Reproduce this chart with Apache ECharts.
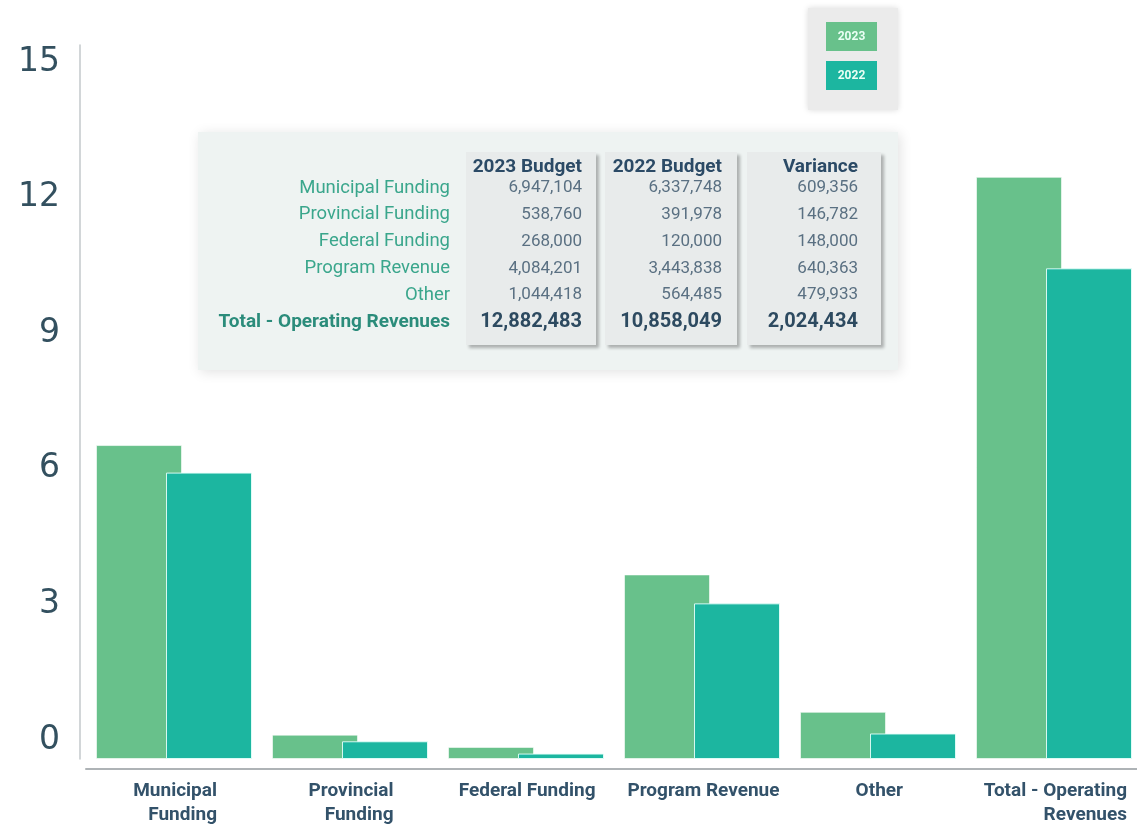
<!DOCTYPE html>
<html>
<head>
<meta charset="utf-8">
<script src="https://cdn.jsdelivr.net/npm/echarts@6/dist/echarts.min.js"></script>
<style>html,body{margin:0;padding:0;background:#fff;overflow:hidden}#c{width:1145px;height:828px}</style>
</head>
<body>
<div id="c"></div>
<script>
// ---- data ----
const categories = ['Municipal Funding', 'Provincial Funding', 'Federal Funding', 'Program Revenue', 'Other', 'Total - Operating Revenues'];
const axisLabels = ['Municipal\nFunding', 'Provincial\nFunding', 'Federal Funding', 'Program Revenue', 'Other', 'Total - Operating\nRevenues'];
const budget2023 = [6947104, 538760, 268000, 4084201, 1044418, 12882483];
const budget2022 = [6337748, 391978, 120000, 3443838, 564485, 10858049];
const variance = [609356, 146782, 148000, 640363, 479933, 2024434];
const tableHeaders = ['2023 Budget', '2022 Budget', 'Variance'];
const seriesNames = ['2023', '2022'];
const yTicks = [0, 3, 6, 9, 12, 15];

// ---- styles ----
const C2023 = '#68c18b';
const C2022 = '#1cb6a0';
const fmt = v => v.toLocaleString('en-US');

const chart = echarts.init(document.getElementById('c'), null, {renderer: 'canvas'});

// measure text widths for right-aligned multi-line axis labels
const cv = document.createElement('canvas').getContext('2d');
cv.font = 'bold 19px Roboto';
const rich = {};
axisLabels.forEach((l, i) => {
  const w = Math.max(...l.split('\n').map(s => cv.measureText(s).width));
  rich['r' + i] = {width: Math.ceil(w) + 2, align: 'right', fontFamily: 'Roboto', fontWeight: 'bold', fontSize: 19, color: '#33526a', lineHeight: 24};
});

// graphic: table
const g = [];
g.push({type: 'rect', shape: {x: 198, y: 132, width: 700, height: 238}, style: {fill: '#eef3f2', shadowBlur: 12, shadowOffsetX: 2, shadowOffsetY: 2, shadowColor: 'rgba(0,0,0,0.12)'}, z: 10});
const colBoxes = [[466, 130], [605, 132], [747, 134]];
const colRight = [582, 722, 858];
colBoxes.forEach(([x, w]) => {
  g.push({type: 'rect', shape: {x: x, y: 152, width: w, height: 193}, style: {fill: '#e8ebeb', shadowBlur: 3, shadowOffsetX: 3, shadowOffsetY: 3, shadowColor: 'rgba(0,0,0,0.28)'}, z: 11});
});
tableHeaders.forEach((h, i) => {
  g.push({type: 'text', x: colRight[i], y: 167, style: {text: h, align: 'right', verticalAlign: 'middle', fill: '#2b4a66', font: 'bold 19px Roboto'}, z: 12});
});
const rowY0 = 188, rowStep = 26.8;
const cols = [budget2023, budget2022, variance];
categories.forEach((cat, r) => {
  const last = r === categories.length - 1;
  const y = rowY0 + r * rowStep;
  g.push({type: 'text', x: 450, y: y, style: {text: cat, align: 'right', verticalAlign: 'middle', fill: last ? '#2b8c7b' : '#3aa68c', font: last ? 'bold 19px Roboto' : '18.5px Roboto'}, z: 12});
  cols.forEach((arr, c) => {
    g.push({type: 'text', x: colRight[c], y: y, style: {text: fmt(arr[r]), align: 'right', verticalAlign: 'middle', fill: last ? '#2d4a60' : '#5a7082', font: last ? 'bold 20px Roboto' : '17px Roboto'}, z: 12});
  });
});
// graphic: legend
g.push({type: 'rect', shape: {x: 808, y: 8, width: 90, height: 102}, style: {fill: '#ebebeb', shadowBlur: 6, shadowColor: 'rgba(0,0,0,0.15)'}, z: 10});
[C2023, C2022].forEach((col, i) => {
  const y = i === 0 ? 22 : 61;
  g.push({type: 'rect', shape: {x: 826, y: y, width: 51, height: 29}, style: {fill: col}, z: 11});
  g.push({type: 'text', x: 851.5, y: y + 14.5, style: {text: seriesNames[i], align: 'center', verticalAlign: 'middle', fill: '#eafff5', font: 'bold 12px Roboto'}, z: 12});
});

const option = {
  animation: false,
  backgroundColor: '#ffffff',
  grid: {left: 86, right: 3, top: 45, bottom: 69, containLabel: false},
  xAxis: {
    type: 'category',
    data: categories,
    offset: 10,
    axisTick: {show: false},
    axisLine: {onZero: false, lineStyle: {color: '#aeb3b6', width: 2}},
    axisLabel: {
      interval: 0,
      margin: 10,
      formatter: (v, i) => axisLabels[i].split('\n').map(s => '{r' + i + '|' + s + '}').join('\n'),
      rich: rich
    }
  },
  yAxis: {
    type: 'value',
    min: 0,
    max: 15.8,
    interval: 3,
    offset: 6,
    splitLine: {show: false},
    axisTick: {show: false},
    axisLine: {show: true, lineStyle: {color: '#c3c8cb', width: 1.5}},
    axisLabel: {
      margin: 20,
      formatter: v => (yTicks.indexOf(v) >= 0 ? String(v) : ''),
      fontFamily: 'DejaVu Sans',
      fontWeight: 'normal',
      fontSize: 33,
      color: '#33505f',
      verticalAlign: 'bottom',
      lineHeight: 38
    }
  },
  series: [
    {name: seriesNames[0], type: 'bar', data: budget2023.map(v => v / 1e6), barWidth: 86, barGap: '-18.6%',
     itemStyle: {color: C2023, borderColor: 'rgba(255,255,255,0.6)', borderWidth: 1}},
    {name: seriesNames[1], type: 'bar', data: budget2022.map(v => v / 1e6), barWidth: 86, barGap: '-18.6%',
     itemStyle: {color: C2022, borderColor: 'rgba(230,255,250,0.9)', borderWidth: 1}}
  ],
  graphic: g
};
chart.setOption(option);
</script>
</body>
</html>
